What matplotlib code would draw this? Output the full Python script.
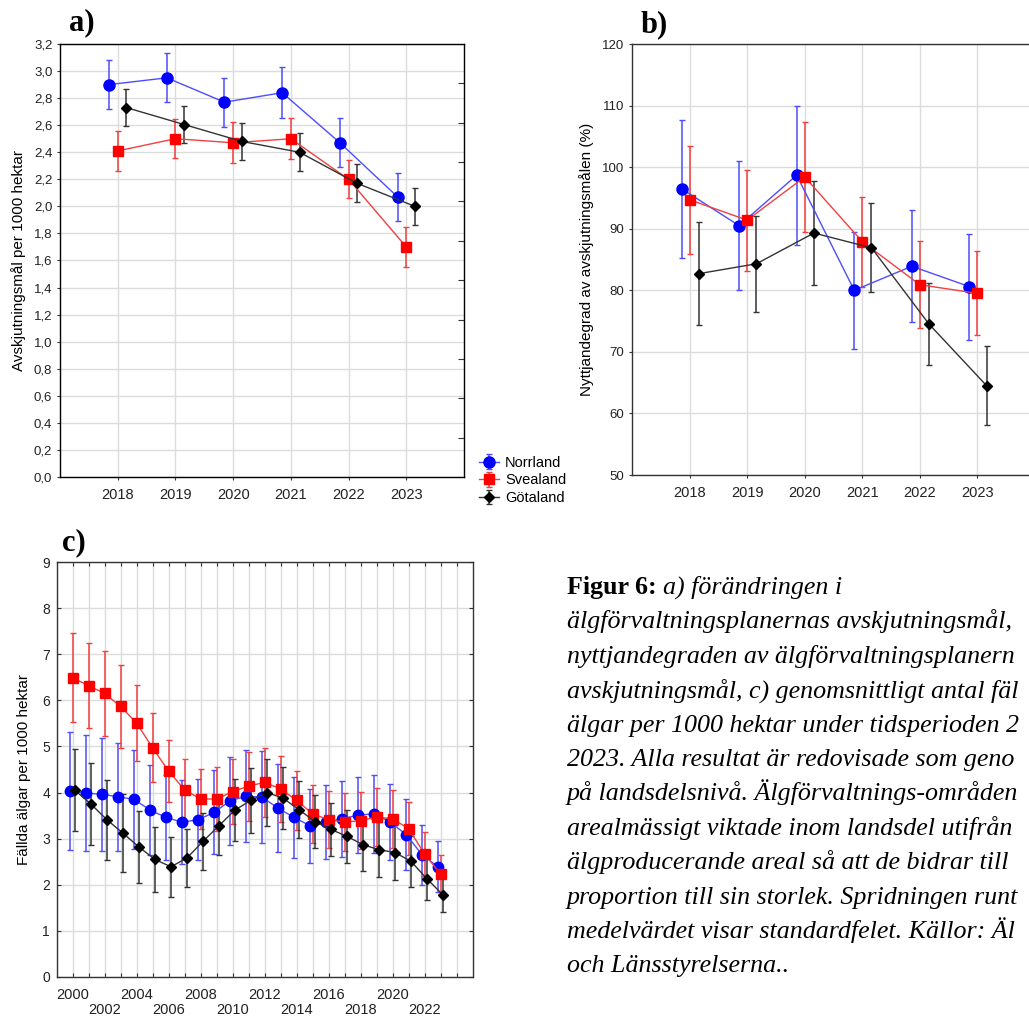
import matplotlib
matplotlib.use("Agg")
import matplotlib.pyplot as plt
from matplotlib.ticker import FuncFormatter

plt.rcParams['font.family'] = ['Liberation Sans', 'DejaVu Sans']

# ---- data, panel a: avskjutningsmål per 1000 hektar
years_ab = [2018, 2019, 2020, 2021, 2022, 2023]
norr_a = [2.90, 2.95, 2.77, 2.84, 2.47, 2.07]
norr_a_se = [0.18, 0.18, 0.18, 0.19, 0.18, 0.18]
svea_a = [2.41, 2.50, 2.47, 2.50, 2.20, 1.70]
svea_a_se = [0.145, 0.145, 0.15, 0.15, 0.14, 0.145]
gota_a = [2.73, 2.605, 2.48, 2.40, 2.17, 2.00]
gota_a_se = [0.135, 0.135, 0.135, 0.14, 0.14, 0.135]

# ---- data, panel b: nyttjandegrad (%)
norr_b = [96.5, 90.5, 98.7, 80.0, 83.9, 80.6]
norr_b_se = [11.2, 10.5, 11.3, 9.5, 9.1, 8.6]
svea_b = [94.7, 91.4, 98.4, 87.9, 80.9, 79.5]
svea_b_se = [8.8, 8.2, 8.9, 7.3, 7.1, 6.8]
gota_b = [82.7, 84.3, 89.3, 86.9, 74.5, 64.5]
gota_b_se = [8.4, 7.8, 8.4, 7.2, 6.7, 6.4]

# ---- data, panel c: fällda älgar per 1000 hektar
years_c = list(range(2000, 2024))
norr_c = [4.04, 3.99, 3.96, 3.91, 3.85, 3.62, 3.46, 3.36, 3.41, 3.57, 3.82, 3.92,
          3.90, 3.66, 3.46, 3.28, 3.36, 3.43, 3.51, 3.54, 3.36, 3.09, 2.65, 2.39]
norr_c_se = [1.28, 1.25, 1.23, 1.17, 1.07, 0.97, 0.92, 0.91, 0.88, 0.91, 0.96, 1.0,
             1.0, 0.95, 0.87, 0.80, 0.80, 0.82, 0.82, 0.84, 0.82, 0.77, 0.65, 0.55]
svea_c = [6.49, 6.32, 6.15, 5.87, 5.51, 4.97, 4.47, 4.06, 3.86, 3.86, 4.02, 4.14,
          4.22, 4.08, 3.83, 3.54, 3.41, 3.36, 3.39, 3.47, 3.43, 3.22, 2.67, 2.23]
svea_c_se = [0.96, 0.93, 0.93, 0.90, 0.83, 0.75, 0.68, 0.67, 0.66, 0.69, 0.71, 0.75,
             0.75, 0.71, 0.64, 0.63, 0.62, 0.63, 0.62, 0.63, 0.63, 0.58, 0.48, 0.42]
gota_c = [4.05, 3.75, 3.41, 3.12, 2.82, 2.55, 2.39, 2.58, 2.94, 3.28, 3.62, 3.83,
          4.00, 3.88, 3.63, 3.37, 3.20, 3.05, 2.87, 2.76, 2.70, 2.51, 2.13, 1.78]
gota_c_se = [0.89, 0.89, 0.87, 0.84, 0.79, 0.70, 0.65, 0.63, 0.62, 0.64, 0.67, 0.70,
             0.72, 0.67, 0.61, 0.58, 0.57, 0.57, 0.57, 0.60, 0.59, 0.55, 0.47, 0.37]

regions = ["Norrland", "Svealand", "Götaland"]

# caption as visible in the (cropped) reference
caption_lines = [
    "älgförvaltningsplanernas avskjutningsmål,",
    "nyttjandegraden av älgförvaltningsplanern",
    "avskjutningsmål, c) genomsnittligt antal fäl",
    "älgar per 1000 hektar under tidsperioden 2",
    "2023. Alla resultat är redovisade som geno",
    "på landsdelsnivå. Älgförvaltnings-områden",
    "arealmässigt viktade inom landsdel utifrån",
    "älgproducerande areal så att de bidrar till",
    "proportion till sin storlek. Spridningen runt",
    "medelvärdet visar standardfelet. Källor: Äl",
    "och Länsstyrelserna..",
]

styles = [
    dict(color="#0000ff", lcolor="#4d4dff", marker="o"),
    dict(color="#ff0000", lcolor="#f04040", marker="s"),
    dict(color="#000000", lcolor="#333333", marker="D"),
]

W, H = 1029, 1019
fig = plt.figure(figsize=(W / 100, H / 100), dpi=100)


def px_axes(x0, y0, x1, y1):
    return fig.add_axes([x0 / W, 1 - y1 / H, (x1 - x0) / W, (y1 - y0) / H])


def style_axes(ax):
    ax.grid(True, color="#dcdcdc", lw=1)
    ax.set_axisbelow(True)
    for s in ax.spines.values():
        s.set_color("#333333")
        s.set_linewidth(1)
    ax.tick_params(colors="#333333", labelcolor="#222222", length=2)


def draw_series(ax, xs, ys, es, st, offset, ms, label=None):
    ax.errorbar([x + offset for x in xs], ys, yerr=es, color=st["lcolor"],
                ecolor=st["lcolor"], elinewidth=1.1, capsize=2.5, capthick=1,
                lw=1, marker=st["marker"], ms=ms, mfc=st["color"],
                mec=st["color"], label=label)


# ---------------- panel a
axa = px_axes(60, 44, 464, 477)
style_axes(axa)
offs = [-0.15, 0.0, 0.15]
sizes_a = [8, 7, 5.5]
data_a = [(norr_a, norr_a_se), (svea_a, svea_a_se), (gota_a, gota_a_se)]
for (ys, es), st, o, ms, lab in zip(data_a, styles, offs, sizes_a, regions):
    draw_series(axa, years_ab, ys, es, st, o, ms, lab)
axa.set_xlim(2017, 2024)
axa.set_ylim(0, 3.2)
axa.set_xticks(years_ab)
axa.set_yticks([i * 0.2 for i in range(17)])
axa.yaxis.set_major_formatter(FuncFormatter(lambda v, p: f"{v:.1f}".replace(".", ",")))
axa.tick_params(axis="x", labelsize=10.5, pad=6)
axa.tick_params(axis="y", labelsize=9.5)
axa.set_ylabel("Avskjutningsmål per 1000 hektar", fontsize=11, labelpad=6)
axa2 = axa.twinx()
axa2.set_ylim(0, 11)
axa2.set_yticks(range(1, 11))
axa2.tick_params(direction="in", length=4, labelright=False, color="#333333")

handles, labels = axa.get_legend_handles_labels()
fig.legend(handles, labels, loc="upper left", bbox_to_anchor=(473 / W, 1 - 450 / H),
           frameon=False, fontsize=10.5, handlelength=1.4, handletextpad=0.4,
           labelspacing=0.25, borderaxespad=0)

# ---------------- panel b
axb = px_axes(632, 44, 1035, 475)
style_axes(axb)
offs_b = [-0.14, 0.0, 0.16]
data_b = [(norr_b, norr_b_se), (svea_b, svea_b_se), (gota_b, gota_b_se)]
for (ys, es), st, o, ms in zip(data_b, styles, offs_b, sizes_a):
    draw_series(axb, years_ab, ys, es, st, o, ms)
axb.set_xlim(2017, 2024)
axb.set_ylim(50, 120)
axb.set_xticks(years_ab)
axb.set_yticks(range(50, 121, 10))
axb.tick_params(axis="x", labelsize=10.5, pad=6)
axb.tick_params(axis="y", labelsize=9.5)
axb.set_ylabel("Nyttjandegrad av avskjutningsmålen (%)", fontsize=11, labelpad=6)

# ---------------- panel c
axc = px_axes(57, 562, 473, 977)
style_axes(axc)
offs_c = [-0.18, -0.03, 0.12]
sizes_c = [7.5, 7, 5.5]
data_c = [(norr_c, norr_c_se), (svea_c, svea_c_se), (gota_c, gota_c_se)]
for (ys, es), st, o, ms in zip(data_c, styles, offs_c, sizes_c):
    draw_series(axc, years_c, ys, es, st, o, ms)
axc.set_xlim(1999, 2025)
axc.set_ylim(0, 9)
xt = list(range(2000, 2025))
xl = []
for y in xt:
    if y % 4 == 0 and y < 2024:
        xl.append(str(y))
    elif y % 2 == 0 and y < 2024:
        xl.append("\n" + str(y))
    else:
        xl.append("")
axc.set_xticks(xt)
axc.set_xticklabels(xl, linespacing=1.05)
axc.set_yticks(range(10))
axc.tick_params(axis="x", labelsize=10.5, pad=8, direction="in", top=True, length=3)
axc.tick_params(axis="y", labelsize=10, direction="in", right=True, length=3, pad=5)
axc.set_ylabel("Fällda älgar per 1000 hektar", fontsize=11, labelpad=8)

# ---------------- panel labels
serif = ["Liberation Serif", "DejaVu Serif"]
for txt, x, y in [("a)", 69, 23), ("b)", 641, 25), ("c)", 62, 543)]:
    fig.text(x / W, 1 - y / H, txt, family=serif, fontsize=22, weight="bold",
             va="center", ha="left")

# ---------------- caption
x0 = 567 / W
base0 = 594
step = 34.4
cap_fs = 18.7
t0 = fig.text(x0, 1 - base0 / H, "Figur 6: ", family=serif, fontsize=cap_fs,
              weight="bold", va="baseline", ha="left")
fig.text(0, 0, "", transform=None)
plt.annotate("a) förändringen i", xy=(1, 0), xycoords=t0, xytext=(0, 0),
             textcoords="offset points", family=serif, fontsize=cap_fs,
             style="italic", va="bottom", ha="left", annotation_clip=False)
for i, line in enumerate(caption_lines, start=1):
    fig.text(x0, 1 - (base0 + i * step) / H, line, family=serif, fontsize=cap_fs,
             style="italic", va="baseline", ha="left")

fig.savefig("out.png", dpi=100)
